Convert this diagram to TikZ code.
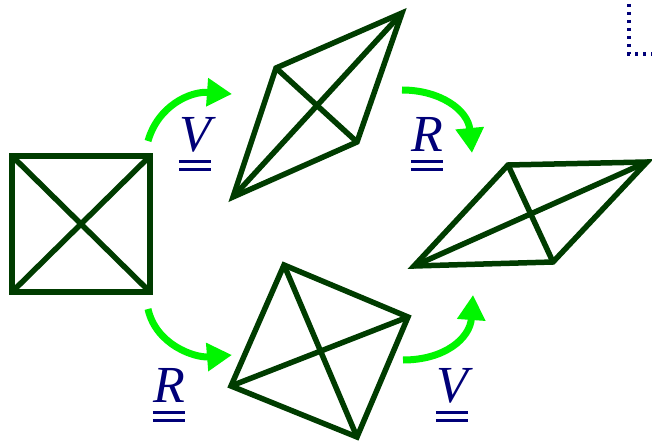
\documentclass[tikz,border=0pt]{standalone}
\usepackage{fontspec}
\setmainfont{Liberation Serif}
\usetikzlibrary{arrows.meta}
\definecolor{dkgreen}{RGB}{0,60,0}
\definecolor{brgreen}{RGB}{0,245,0}
\definecolor{navyc}{RGB}{0,0,120}
\tikzset{
  quad/.style={draw=dkgreen, line width=5.5pt},
  move/.style={draw=brgreen, line width=7pt, -{Triangle[length=25pt,width=27pt]}},
  lab/.style={text=navyc, inner sep=0pt, anchor=base, font=\fontsize{52}{60}\selectfont\itshape},
  ul/.style={draw=navyc, line width=3pt},
  corner/.style={draw=navyc, line width=3.2pt, dash pattern=on 3.2pt off 4.8pt}
}
\begin{document}
\begin{tikzpicture}[x=1pt,y=-1pt]
\useasboundingbox (0,0) rectangle (652,443);
% square
\coordinate (s1) at (12,156);
\coordinate (s2) at (150,156);
\coordinate (s3) at (150,292);
\coordinate (s4) at (12,292);
\draw[quad] (s1) -- (s2) -- (s3) -- (s4) -- cycle;
\draw[quad] (s1) -- (s3) (s2) -- (s4);
% top shape
\coordinate (t1) at (276,68);
\coordinate (t2) at (402,13);
\coordinate (t3) at (357,142);
\coordinate (t4) at (233,197);
\draw[quad] (t1) -- (t2) -- (t3) -- (t4) -- cycle;
\draw[quad] (t1) -- (t3) (t2) -- (t4);
% right shape
\coordinate (r1) at (508,165);
\coordinate (r2) at (647,162);
\coordinate (r3) at (553,262);
\coordinate (r4) at (414,266);
\draw[quad] (r1) -- (r2) -- (r3) -- (r4) -- cycle;
\draw[quad] (r1) -- (r3) (r2) -- (r4);
% bottom shape
\coordinate (b1) at (284,265);
\coordinate (b2) at (408,317);
\coordinate (b3) at (357,437);
\coordinate (b4) at (231,386);
\draw[quad] (b1) -- (b2) -- (b3) -- (b4) -- cycle;
\draw[quad] (b1) -- (b3) (b2) -- (b4);
% arrows
\coordinate (a1s) at (148,141);
\coordinate (a1e) at (232,94);
\draw[move] (a1s) .. controls (158,106) and (190,91) .. (a1e);
\coordinate (a2s) at (402,90);
\coordinate (a2e) at (472,153);
\draw[move] (a2s) .. controls (440,90) and (468,110) .. (a2e);
\coordinate (a3s) at (148,309);
\coordinate (a3e) at (232,355);
\draw[move] (a3s) .. controls (156,345) and (195,358) .. (a3e);
\coordinate (a4s) at (403,360);
\coordinate (a4e) at (473,295);
\draw[move] (a4s) .. controls (445,360) and (470,338) .. (a4e);
% labels
\node[lab] (l1) at (195,152) {V};
\node[lab] (l2) at (427,152) {R};
\node[lab] (l3) at (169,402) {R};
\node[lab] (l4) at (452,402) {V};
\foreach \n in {l1,l2,l3,l4}{
  \draw[ul] ([yshift=-10pt]\n.base west) -- ([yshift=-10pt]\n.base east);
  \draw[ul] ([yshift=-18pt]\n.base west) -- ([yshift=-18pt]\n.base east);
}
% dotted corner
\coordinate (d1) at (629,4);
\coordinate (d2) at (629,54);
\coordinate (d3) at (656,54);
\draw[corner] (d1) -- (d2) -- (d3);
\end{tikzpicture}
\end{document}
